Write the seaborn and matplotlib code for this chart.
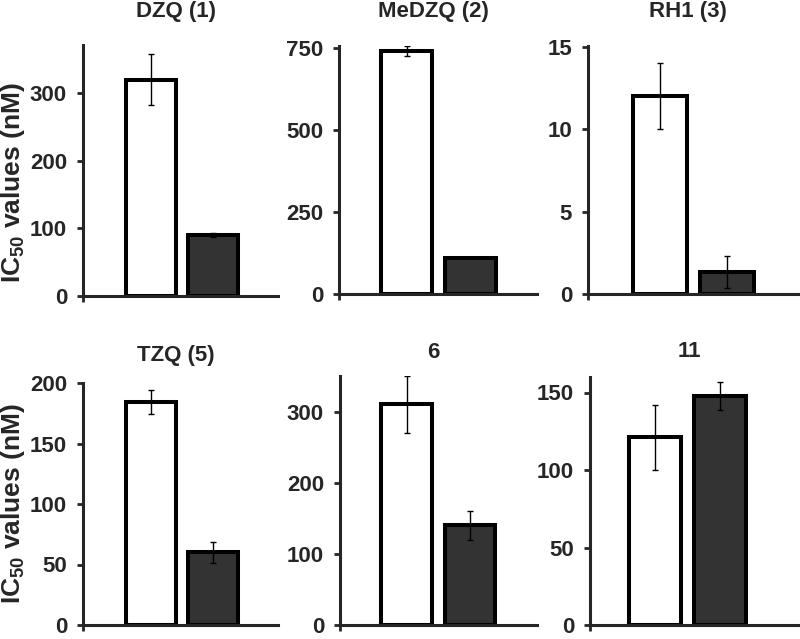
import matplotlib
matplotlib.use("Agg")
import matplotlib.pyplot as plt
import seaborn as sns
import pandas as pd

# Data
compounds = ["DZQ (1)", "MeDZQ (2)", "RH1 (3)", "TZQ (5)", "6", "11"]
groups = ["A", "B"]
white_vals = [320, 740, 12.0, 184, 310, 121]
white_err = [38, 14, 2.0, 10, 40, 21]
dark_vals = [90, 110, 1.35, 60, 140, 148]
dark_err = [3, 0, 0.97, 9, 20, 9]
y_max = [371, 755, 15.05, 200, 350, 160]
y_step = [100, 250, 5, 50, 100, 50]

# Layout in pixels: left, right, top, bottom
boxes = [
    (83, 278, 45, 296),
    (339, 537, 46, 294),
    (588, 798, 46, 294),
    (83, 278, 383, 625),
    (340, 537, 376, 625),
    (590, 798, 377, 625),
]
xlims = [(-1.1, 2.05), (-1.06, 2.04), (-1.07, 2.05),
         (-1.08, 2.03), (-1.05, 2.06), (-1.0, 2.2)]
title_y = [12, 12, 12, 355, 353, 351]

sns.set_style("ticks")
plt.rcParams["font.family"] = ["Liberation Sans", "DejaVu Sans"]
plt.rcParams["font.weight"] = "bold"
plt.rcParams["mathtext.fontset"] = "custom"
plt.rcParams["mathtext.rm"] = "Liberation Sans:bold"
plt.rcParams["mathtext.default"] = "rm"

W, H = 800, 639
fig = plt.figure(figsize=(W / 100, H / 100), dpi=100)
fig.patch.set_facecolor("white")

for i, name in enumerate(compounds):
    l, r, t, b = boxes[i]
    ax = fig.add_axes([l / W, 1 - b / H, (r - l) / W, (b - t) / H])
    df = pd.DataFrame({"group": groups, "value": [white_vals[i], dark_vals[i]]})
    sns.barplot(data=df, x="group", y="value", hue="group",
                palette=["white", "#333333"], edgecolor="black",
                linewidth=2.9, width=0.8, legend=False, ax=ax, zorder=2)
    ax.errorbar([0, 1], [white_vals[i], dark_vals[i]],
                yerr=[white_err[i], dark_err[i]], fmt="none",
                ecolor="black", elinewidth=1.0, capsize=2.5,
                capthick=1.0, zorder=3)
    ax.set_xlim(*xlims[i])
    ax.set_ylim(0, y_max[i])
    ticks = []
    v = 0
    while v <= y_max[i] + 1e-9:
        ticks.append(v)
        v += y_step[i]
    ax.set_yticks(ticks)
    ax.set_yticklabels([f"{t:g}" for t in ticks], fontsize=16, fontweight="bold")
    ax.set_xticks([xlims[i][0]])
    ax.set_xticklabels([""])
    ax.set_xlabel("")
    ax.set_ylabel("")
    sns.despine(ax=ax)
    for s in ["left", "bottom"]:
        ax.spines[s].set_linewidth(2.2)
    ax.tick_params(axis="y", length=4.5, width=2, pad=7, direction="out")
    ax.tick_params(axis="x", length=4, width=2, direction="out")
    ax.set_facecolor("white")
    fig.text((l + r) / 2 / W - 5 / W, 1 - title_y[i] / H, name,
             ha="center", va="center", fontsize=16, fontweight="bold")

fig.text(13 / W, 1 - 183 / H, "IC$_{50}$ values (nM)", rotation=90,
         ha="center", va="center", fontsize=19, fontweight="bold")
fig.text(13 / W, 1 - 504 / H, "IC$_{50}$ values (nM)", rotation=90,
         ha="center", va="center", fontsize=19, fontweight="bold")

fig.savefig("out.png", dpi=100, facecolor="white")
